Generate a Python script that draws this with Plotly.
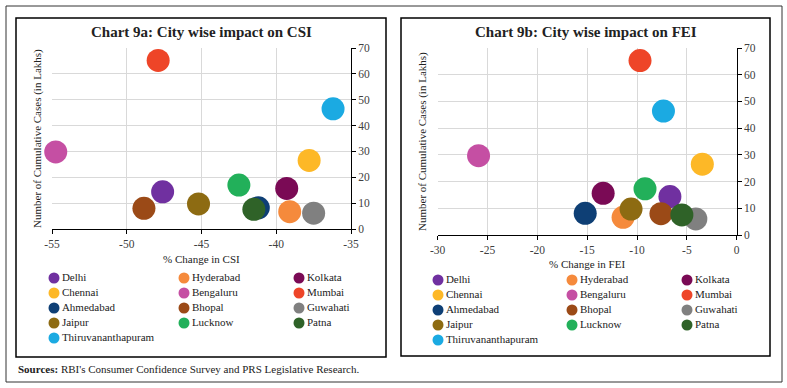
import plotly.graph_objects as go

W, H = 787, 388

cities = ["Delhi", "Hyderabad", "Kolkata", "Chennai", "Bengaluru", "Mumbai",
          "Ahmedabad", "Bhopal", "Guwahati", "Jaipur", "Lucknow", "Patna",
          "Thiruvananthapuram"]
colors = ["#7030A0", "#F58A3C", "#7A0A55", "#FDB827", "#C54FA3", "#EE4528",
          "#0E3F75", "#9B4A17", "#808080", "#8D6B12", "#22B05A", "#2F6228",
          "#1BAAE2"]
# Number of cumulative cases (in lakhs)
cases_csi = [14.4, 6.7, 15.7, 26.5, 29.8, 65.2, 8.2, 8.0, 6.1, 9.7, 17.0, 7.6, 46.5]
cases_fei = [14.4, 6.6, 15.6, 26.5, 29.7, 65.3, 8.1, 8.0, 6.0, 9.7, 17.3, 7.5, 46.4]
# % change in indices
chg_csi = [-47.6, -39.1, -39.3, -37.8, -54.75, -47.9, -41.2, -48.85, -37.5, -45.2, -42.5, -41.5, -36.2]
chg_fei = [-6.7, -11.4, -13.4, -3.45, -25.9, -9.7, -15.2, -7.6, -4.1, -10.6, -9.2, -5.5, -7.35]

y_ticks = [0, 10, 20, 30, 40, 50, 60, 70]
x_ticks_csi = [-55, -50, -45, -40, -35]
x_ticks_fei = [-30, -25, -20, -15, -10, -5, 0]

FONT = "Liberation Serif"
GRID = "#D9D9D9"
TICKC = "#404040"

def px(x):
    return x / W

def py(y):
    return 1 - y / H

fig = go.Figure()

panels = [
    dict(xa="x", ya="y", xs=chg_csi, ys=cases_csi),
    dict(xa="x2", ya="y2", xs=chg_fei, ys=cases_fei),
]
for p in panels:
    for name, c, xv, yv in zip(cities, colors, p["xs"], p["ys"]):
        fig.add_trace(go.Scatter(
            x=[xv], y=[yv], mode="markers", name=name, showlegend=False,
            xaxis=p["xa"], yaxis=p["ya"], hoverinfo="skip", cliponaxis=False,
            marker=dict(size=23, color=c, line=dict(width=0)),
        ))

# Manual legends (3 columns, row-major) on a hidden pixel-scaled axis
leg_specs = [
    dict(cols=[54, 184, 299], row0=278),
    dict(cols=[438, 572, 687], row0=280),
]
for spec in leg_specs:
    lx, ly = [], []
    for i, _ in enumerate(cities):
        lx.append(spec["cols"][i % 3])
        ly.append(spec["row0"] + 15 * (i // 3))
    fig.add_trace(go.Scatter(
        x=lx, y=ly, mode="markers+text", text=cities, textposition="middle right",
        textfont=dict(family=FONT, size=11, color="#222222"),
        marker=dict(size=11, color=colors), xaxis="x3", yaxis="y3",
        showlegend=False, hoverinfo="skip", cliponaxis=False,
    ))

axis_common = dict(showgrid=True, gridcolor=GRID, gridwidth=1, zeroline=False,
                   showline=True, linecolor="black", linewidth=1,
                   ticks="outside", ticklen=4, tickcolor="black",
                   tickfont=dict(family=FONT, size=11.5, color=TICKC))

fig.update_layout(
    width=W, height=H, margin=dict(l=0, r=0, t=0, b=0, autoexpand=False),
    paper_bgcolor="white", plot_bgcolor="rgba(0,0,0,0)", showlegend=False,
    xaxis=dict(domain=[px(52), px(351)], range=[-55, -35], tickvals=x_ticks_csi,
               ticktext=[str(v) for v in x_ticks_csi], anchor="y", **axis_common),
    yaxis=dict(domain=[py(229), py(48)], range=[0, 70], tickvals=y_ticks, side="right",
               anchor="x", **axis_common),
    xaxis2=dict(domain=[px(437.7), px(736.7)], range=[-30, 0], tickvals=x_ticks_fei,
                ticktext=[str(v) for v in x_ticks_fei], anchor="y2", **axis_common),
    yaxis2=dict(domain=[py(235), py(48)], range=[0, 70], tickvals=y_ticks, side="right",
                anchor="x2", **axis_common),
    xaxis3=dict(domain=[0, 1], range=[0, W], visible=False, fixedrange=True),
    yaxis3=dict(domain=[0, 1], range=[H, 0], visible=False, fixedrange=True),
)

shapes = [
    dict(type="rect", xref="paper", yref="paper", x0=px(6), x1=px(782), y0=py(382), y1=py(6),
         line=dict(color="#333333", width=1)),
    dict(type="rect", xref="paper", yref="paper", x0=px(16), x1=px(386), y0=py(357), y1=py(18),
         line=dict(color="black", width=1.5)),
    dict(type="rect", xref="paper", yref="paper", x0=px(401), x1=px(770), y0=py(356), y1=py(18),
         line=dict(color="black", width=1.5)),
]
fig.update_layout(shapes=shapes)

ann = []
def A(text, x, y, size, bold=False, angle=0, color="#222222", xanchor="center"):
    ann.append(dict(text=("<b>%s</b>" % text) if bold else text, x=px(x), y=py(y),
                    xref="paper", yref="paper", showarrow=False, textangle=angle,
                    xanchor=xanchor, yanchor="middle",
                    font=dict(family=FONT, size=size, color=color)))

A("Chart 9a: City wise impact on CSI", 201, 32, 15, bold=True)
A("Chart 9b: City wise impact on FEI", 586, 32, 15, bold=True)
A("Number of Cumulative Cases (in Lakhs)", 37, 139, 11, angle=-90)
A("Number of Cumulative Cases (in Lakhs)", 422, 142, 11, angle=-90)
A("% Change in CSI", 201, 259, 11)
A("% Change in FEI", 587, 264, 11)
A("<b>Sources:</b> RBI's Consumer Confidence Survey and PRS Legislative Research.", 16, 369, 11,
  xanchor="left")
fig.update_layout(annotations=ann)

fig.write_html("out.html", config={"displayModeBar": False, "staticPlot": True},
               post_script="document.body.style.margin='0';document.body.style.overflow='hidden';")
